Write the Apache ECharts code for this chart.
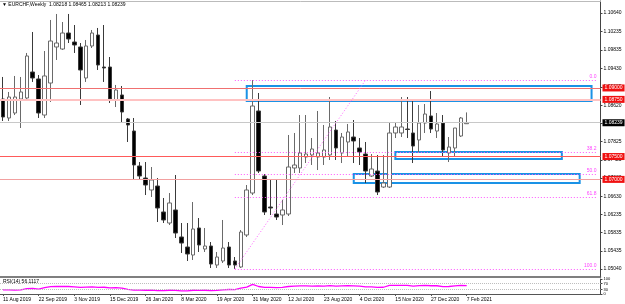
<!DOCTYPE html>
<html><head><meta charset="utf-8">
<script src="https://cdn.jsdelivr.net/npm/echarts@6/dist/echarts.min.js"></script>
<style>html,body{margin:0;padding:0;background:#fff}#c{width:625px;height:304px}</style>
</head><body><div id="c"></div>
<script>
const symbol = 'EURCHF,Weekly';
const dates = ['11 Aug 2019','18 Aug 2019','25 Aug 2019','1 Sep 2019','8 Sep 2019','15 Sep 2019','22 Sep 2019','29 Sep 2019','6 Oct 2019','13 Oct 2019',
'20 Oct 2019','27 Oct 2019','3 Nov 2019','10 Nov 2019','17 Nov 2019','24 Nov 2019','1 Dec 2019','8 Dec 2019','15 Dec 2019','22 Dec 2019',
'29 Dec 2019','5 Jan 2020','12 Jan 2020','19 Jan 2020','26 Jan 2020','2 Feb 2020','9 Feb 2020','16 Feb 2020','23 Feb 2020','1 Mar 2020',
'8 Mar 2020','15 Mar 2020','22 Mar 2020','29 Mar 2020','5 Apr 2020','12 Apr 2020','19 Apr 2020','26 Apr 2020','3 May 2020','10 May 2020',
'17 May 2020','24 May 2020','31 May 2020','7 Jun 2020','14 Jun 2020','21 Jun 2020','28 Jun 2020','5 Jul 2020','12 Jul 2020','19 Jul 2020',
'26 Jul 2020','2 Aug 2020','9 Aug 2020','16 Aug 2020','23 Aug 2020','30 Aug 2020','6 Sep 2020','13 Sep 2020','20 Sep 2020','27 Sep 2020',
'4 Oct 2020','11 Oct 2020','18 Oct 2020','25 Oct 2020','1 Nov 2020','8 Nov 2020','15 Nov 2020','22 Nov 2020','29 Nov 2020','6 Dec 2020',
'13 Dec 2020','20 Dec 2020','27 Dec 2020','3 Jan 2021','10 Jan 2021','17 Jan 2021','24 Jan 2021','31 Jan 2021','7 Feb 2021'];
const emptyFutureSlots = 22;

const opens = [1.08758,1.08343,1.08452,1.08758,1.08780,1.09349,1.09196,1.08408,1.09108,1.09896,
1.09852,1.10202,1.10005,1.09896,1.09218,1.09918,1.10158,1.09458,1.09458,1.08737,
1.08846,1.08321,1.08058,1.07293,1.07030,1.06768,1.06855,1.06287,1.06046,1.06331,
1.05740,1.05521,1.05346,1.05937,1.05477,1.05543,1.05127,1.05215,1.05521,1.05215,
1.05084,1.05784,1.06702,1.08496,1.07074,1.06396,1.06243,1.06221,1.06243,1.07249,
1.07249,1.07490,1.07534,1.07490,1.07490,1.07534,1.08080,1.07577,1.07818,1.07927,
1.07687,1.07555,1.07074,1.07183,1.06833,1.06833,1.08015,1.08015,1.08102,1.08015,
1.07862,1.08233,1.08387,1.08058,1.08233,1.07577,1.07687,1.07949,1.08218];
const closes = [1.08365,1.08802,1.08802,1.08912,1.09699,1.09218,1.08452,1.09262,1.10027,1.09983,
1.10202,1.10071,1.09940,1.09393,1.09918,1.10202,1.09502,1.09437,1.08758,1.08955,
1.08474,1.08190,1.07315,1.07074,1.06877,1.06987,1.06374,1.06112,1.06484,1.05827,
1.05608,1.05368,1.05915,1.05565,1.05543,1.05149,1.05302,1.05499,1.05127,1.05127,
1.05849,1.06768,1.08605,1.07183,1.06287,1.06374,1.06177,1.06331,1.07271,1.07315,
1.07577,1.07555,1.07665,1.07577,1.07643,1.08146,1.07687,1.07927,1.08037,1.07840,
1.07599,1.07183,1.07227,1.06724,1.06921,1.08015,1.08146,1.08146,1.08091,1.07730,
1.08233,1.08430,1.08102,1.08212,1.07643,1.07708,1.08124,1.08343,1.08239];
const highs = [1.09240,1.08912,1.09262,1.09240,1.09765,1.10224,1.09283,1.09808,1.10487,1.10618,
1.10443,1.10618,1.10377,1.09983,1.10049,1.10268,1.10312,1.10377,1.09677,1.09065,
1.09043,1.08343,1.08343,1.07380,1.07380,1.07271,1.07030,1.06593,1.06702,1.07096,
1.06046,1.06046,1.06505,1.06155,1.05937,1.05630,1.05412,1.06112,1.05630,1.05302,
1.05893,1.06877,1.09174,1.08890,1.07118,1.06987,1.06987,1.06549,1.07971,1.08015,
1.08408,1.08408,1.07905,1.08496,1.08190,1.08802,1.08277,1.08015,1.08212,1.08299,
1.07905,1.07818,1.07555,1.07534,1.07534,1.08255,1.08255,1.08802,1.08802,1.08737,
1.08627,1.08649,1.08933,1.08452,1.08408,1.07927,1.08124,1.08365,1.08465];
const lows = [1.08277,1.08277,1.08408,1.08124,1.08737,1.09131,1.08343,1.08343,1.08693,1.09612,
1.09831,1.09983,1.09765,1.08627,1.09131,1.09874,1.09393,1.09131,1.08671,1.08583,
1.08255,1.07818,1.06987,1.06987,1.06658,1.06615,1.06068,1.06046,1.06002,1.05718,
1.05390,1.05215,1.05237,1.05412,1.05412,1.05062,1.05062,1.05171,1.05062,1.05040,
1.05062,1.05740,1.06658,1.07140,1.06221,1.06221,1.06112,1.06002,1.06199,1.07140,
1.07140,1.07358,1.07315,1.07205,1.07315,1.07424,1.07424,1.07358,1.07490,1.07358,
1.07315,1.06921,1.07052,1.06658,1.06812,1.06812,1.07905,1.07927,1.07905,1.07358,
1.07577,1.08015,1.08015,1.07905,1.07490,1.07380,1.07490,1.07927,1.08213];
const rsi = [27,27,26,27,36,38,32,42,49,50, 51,50,48,44,46,47,44,45,41,42,
39,31,26,26,25,26,23,22,25,24, 21,21,25,24,25,23,24,28,30,29,
39,46,64,50,44,44,43,44,50,52, 54,54,53,54,53,56,53,54,55,54,
52,47,48,44,45,57,58,58,57,53, 56,58,55,55,49,50,54,57,56.1117];

const priceTicks = [1.10640,1.10235,1.09835,1.09430,1.09025,1.08620,1.08220,1.07825,1.07425,1.07030,1.06630,1.06235,1.05835,1.05435,1.05040];
const rsiTicks = [0,30,70,100];
const rsiLevels = [70,30];
const redLevels = [1.09000,1.08750,1.07500,1.07000];
const fibNames = ['0.0','38.2','50.0','61.8','100.0'];
const fibPrices = [1.09174,1.07595,1.07107,1.06619,1.05040];
const fibStartIndex = 39, fibEndIndex = 61;
const zones = [[41,99,1.09043,1.08715],[66,94,1.07599,1.07446],[59,97,1.07118,1.06921]];

const categories = dates.concat(new Array(emptyFutureSlots).fill(''));
const N = categories.length;
const step = 5.96;
const gridLeft = 1.5 - step/2;
const gridWidth = step*N;
const FONT = 'Liberation Sans';
const last = dates.length-1;
const lastClose = closes[last];

const redStyles = [
  {color:'#f07070',width:1},
  {color:'#ffc2c2',width:2},
  {color:'#ff5a5a',width:1},
  {color:'#f2a0a0',width:1}
];

const markLineData = [];
markLineData.push({yAxis:lastClose, lineStyle:{color:'#c8c8c8',width:1,type:'solid'},
  label:{show:true,position:'end',distance:2,formatter:lastClose.toFixed(5),backgroundColor:'#000',color:'#fff',fontSize:5,fontFamily:FONT,padding:[1,2,1,2]}});
redLevels.forEach((p,i)=>{
  markLineData.push({yAxis:p, lineStyle:Object.assign({type:'solid'},redStyles[i]),
    label:{show:true,position:'end',distance:2,formatter:p.toFixed(5),backgroundColor:'#f01010',color:'#fff',fontSize:5,fontFamily:FONT,padding:[1,2,1,2]}});
});
fibPrices.forEach((p,i)=>{
  markLineData.push([
    {coord:[fibStartIndex,p], lineStyle:{color:'#ff55ff',width:1,type:[1,2]},
     label:{show:true,position:'insideEndTop',distance:1,formatter:fibNames[i],color:'#ff44ff',fontSize:5,fontFamily:FONT}},
    {coord:[N-1,p]}
  ]);
});
markLineData.push([
  {coord:[fibStartIndex,fibPrices[4]], lineStyle:{color:'#ff66ff',width:1,type:[1,2]}, label:{show:false}},
  {coord:[fibEndIndex,fibPrices[0]]}
]);

const chart = echarts.init(document.getElementById('c'), null, {renderer:'canvas'});
const labelInterval = (idx, val) => idx % 6 === 0 && val !== '';
chart.setOption({
  animation:false,
  backgroundColor:'#ffffff',
  title:[
    {text:'▼ ' + symbol + '  ' + [opens[last],highs[last],lows[last],closes[last]].map(v=>v.toFixed(5)).join(' '),
     left:2, top:2, padding:0, textStyle:{fontSize:5, fontWeight:'normal', color:'#000', fontFamily:FONT}},
    {text:'RSI(14) ' + rsi[last].toFixed(4), left:3, top:279, padding:0,
     textStyle:{fontSize:5, fontWeight:'normal', color:'#000', fontFamily:FONT}}
  ],
  grid:[
    {left:gridLeft, top:1, width:gridWidth, height:276},
    {left:gridLeft, top:279, width:gridWidth, height:15}
  ],
  xAxis:[
    {type:'category', gridIndex:0, data:categories, boundaryGap:true,
     axisLine:{show:true,lineStyle:{color:'#555',width:1.5}}, axisTick:{show:false}, axisLabel:{show:false}, splitLine:{show:false}},
    {type:'category', gridIndex:1, data:categories, boundaryGap:true,
     axisLine:{show:true,lineStyle:{color:'#555',width:1}},
     axisTick:{show:true, alignWithLabel:true, interval:labelInterval, length:2, lineStyle:{color:'#555'}},
     axisLabel:{interval:labelInterval, align:'left', fontSize:5, color:'#000', margin:3, fontFamily:FONT},
     splitLine:{show:false}},
    {type:'category', gridIndex:0, position:'top', data:categories, boundaryGap:true,
     axisLine:{show:true,lineStyle:{color:'#bbbbbb',width:1}}, axisTick:{show:false}, axisLabel:{show:false}}
  ],
  yAxis:[
    {type:'value', gridIndex:0, position:'right', min:1.04865, max:1.10902,
     axisLine:{show:true,lineStyle:{color:'#444',width:1}},
     axisTick:{show:true, customValues:priceTicks, length:2, lineStyle:{color:'#444'}},
     axisLabel:{customValues:priceTicks, formatter:v=>v.toFixed(5), fontSize:5, color:'#000', margin:3, fontFamily:FONT},
     splitLine:{show:false}},
    {type:'value', gridIndex:1, position:'right', min:0, max:100,
     axisLine:{show:true,lineStyle:{color:'#444',width:1}},
     axisTick:{show:true, customValues:rsiTicks, length:2, lineStyle:{color:'#444'}},
     axisLabel:{customValues:rsiTicks, fontSize:4, color:'#000', margin:3, fontFamily:FONT},
     splitLine:{show:false}}
  ],
  series:[
    {type:'candlestick', xAxisIndex:0, yAxisIndex:0, barWidth:4,
     data:opens.map((o,i)=>[o, closes[i], lows[i], highs[i]]),
     itemStyle:{color:'#ffffff', color0:'#000000', borderColor:'#6a6a6a', borderColor0:'#3a3a3a', borderWidth:1},
     markLine:{silent:true, precision:5, symbol:['none','none'], animation:false, data:markLineData},
     markArea:{silent:true, animation:false,
       itemStyle:{color:'rgba(0,0,0,0)', borderColor:'#1a92e6', borderWidth:2},
       data:zones.map(z=>[{coord:[z[0],z[2]]},{coord:[z[1],z[3]]}])}
    },
    {type:'line', xAxisIndex:1, yAxisIndex:1, data:rsi, showSymbol:false, symbol:'none',
     lineStyle:{color:'#ff00ff', width:1.3},
     markLine:{silent:true, precision:2, symbol:['none','none'], animation:false, label:{show:false},
       lineStyle:{color:'#bdbdbd', type:[1,1], width:1},
       data:rsiLevels.map(v=>({yAxis:v}))}
    }
  ]
});
</script>
</body></html>
